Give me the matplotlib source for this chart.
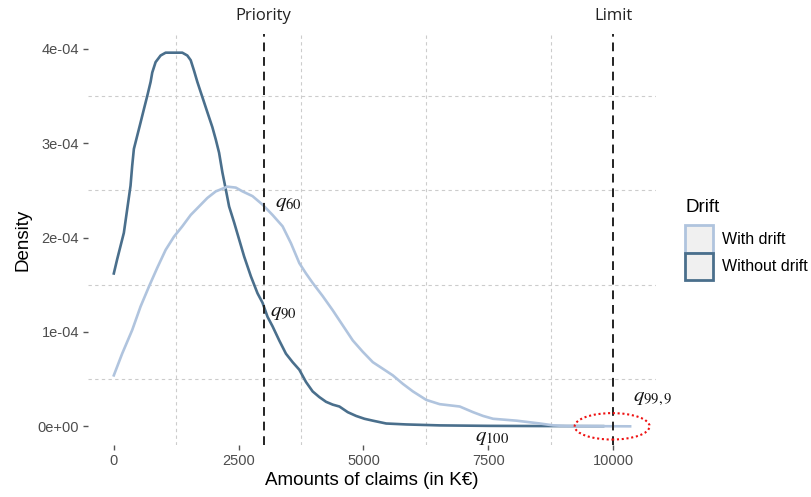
import matplotlib

matplotlib.use("Agg")

import matplotlib.pyplot as plt
from matplotlib.patches import Ellipse, Patch

# Kernel density estimates of claim amounts (in K€), one pair of lists per curve
with_drift_x = [0, 167, 368, 536, 703, 870, 1038, 1205, 1372, 1540, 1707, 1873, 2042,
                2276, 2443, 2577, 2777, 2978, 3179, 3380, 3548, 3715, 3849, 3982, 4183,
                4384, 4585, 4786, 4986, 5187, 5388, 5588, 5789, 5990, 6258, 6526, 6928,
                7195, 7396, 7596, 8065, 8534, 8801, 9069, 10340]
with_drift_y = [0.54e-4, 0.77e-4, 1.02e-4, 1.27e-4, 1.48e-4, 1.68e-4, 1.87e-4, 2.01e-4,
                2.12e-4, 2.24e-4, 2.33e-4, 2.42e-4, 2.49e-4, 2.54e-4, 2.53e-4, 2.49e-4,
                2.44e-4, 2.35e-4, 2.24e-4, 2.12e-4, 1.94e-4, 1.73e-4, 1.62e-4, 1.52e-4,
                1.38e-4, 1.23e-4, 1.07e-4, 0.91e-4, 0.79e-4, 0.68e-4, 0.61e-4, 0.54e-4,
                0.45e-4, 0.37e-4, 0.28e-4, 0.235e-4, 0.21e-4, 0.15e-4, 0.11e-4, 0.08e-4,
                0.06e-4, 0.03e-4, 0.01e-4, 0.003e-4, 0.0]

without_drift_x = [0, 67, 134, 201, 268, 335, 368, 402, 469, 536, 602, 669, 737, 770,
                   837, 937, 1038, 1372, 1472, 1540, 1606, 1673, 1773, 1873, 1974, 2042,
                   2108, 2175, 2243, 2309, 2410, 2510, 2610, 2745, 2878, 2978, 3079, 3179,
                   3313, 3447, 3581, 3715, 3849, 3982, 4116, 4250, 4384, 4518, 4685, 4853,
                   5020, 5187, 5455, 5857, 6526, 7500, 8500, 9800]
without_drift_y = [1.62e-4, 1.77e-4, 1.91e-4, 2.05e-4, 2.30e-4, 2.55e-4, 2.76e-4,
                   2.94e-4, 3.08e-4, 3.22e-4, 3.36e-4, 3.50e-4, 3.65e-4, 3.75e-4,
                   3.86e-4, 3.93e-4, 3.96e-4, 3.96e-4, 3.93e-4, 3.88e-4, 3.77e-4,
                   3.65e-4, 3.49e-4, 3.33e-4, 3.17e-4, 3.04e-4, 2.90e-4, 2.69e-4,
                   2.51e-4, 2.33e-4, 2.16e-4, 1.98e-4, 1.80e-4, 1.59e-4, 1.41e-4,
                   1.31e-4, 1.16e-4, 1.06e-4, 0.91e-4, 0.77e-4, 0.68e-4, 0.60e-4,
                   0.47e-4, 0.37e-4, 0.31e-4, 0.26e-4, 0.23e-4, 0.21e-4, 0.15e-4,
                   0.11e-4, 0.08e-4, 0.06e-4, 0.03e-4, 0.02e-4, 0.01e-4, 0.005e-4,
                   0.003e-4, 0.002e-4]

priority = 3000
limit = 10000

x_ticks = [0, 2500, 5000, 7500, 10000]
y_ticks = [0, 1e-4, 2e-4, 3e-4, 4e-4]
y_tick_labels = ["0e+00", "1e-04", "2e-04", "3e-04", "4e-04"]

# quantile labels: (text, x, y)
quantile_labels = [
    (r"$q_{60}$", 3230, 2.36e-4),
    (r"$q_{90}$", 3130, 1.21e-4),
    (r"$q_{100}$", 7230, -0.12e-4),
    (r"$q_{99,9}$", 10400, 0.29e-4),
]

LIGHT = "#b0c4de"
DARK = "#4a6f8c"

plt.rcParams["font.family"] = ["Liberation Sans", "DejaVu Sans"]
plt.rcParams["mathtext.fontset"] = "stix"

fig = plt.figure(figsize=(8.11, 4.97), dpi=100)
ax = fig.add_axes([0.1085, 0.1046, 0.7003, 0.827])

ax.plot(without_drift_x, without_drift_y, color=DARK, lw=1.9, zorder=3)
ax.plot(with_drift_x, with_drift_y, color=LIGHT, lw=1.9, zorder=4)

for x in (priority, limit):
    ax.axvline(x, color="#222222", lw=1.4, linestyle=(0, (4.5, 3)), zorder=5)

# dotted ring around the tail beyond the limit
ax.add_patch(Ellipse((limit - 20, 0.0), 1500, 0.28e-4, fill=False,
                     edgecolor="#ee1111", lw=1.5, linestyle=(0, (1, 1.3)), zorder=6))

for label, x, y in quantile_labels:
    ax.text(x, y, label, fontsize=15, ha="left", va="center", color="#111111", zorder=7)

for x, name in ((priority, "Priority"), (limit, "Limit")):
    ax.text(x, 1.025, name, transform=ax.get_xaxis_transform(),
            ha="center", va="bottom", fontsize=12, family=["Open Sans", "DejaVu Sans"],
            color="#222222")

ax.set_xlim(-517, 10857)
ax.set_ylim(-0.198e-4, 4.158e-4)

ax.set_xticks(x_ticks)
ax.set_xticklabels([str(t) for t in x_ticks])
ax.set_yticks(y_ticks)
ax.set_yticklabels(y_tick_labels)
ax.set_xticks([1250, 3750, 6250, 8750], minor=True)
ax.set_yticks([0.5e-4, 1.5e-4, 2.5e-4, 3.5e-4], minor=True)
ax.grid(False, which="major")
ax.grid(True, which="minor", color="#cccccc", lw=0.8, linestyle=(0, (3, 3)))
ax.tick_params(which="minor", length=0)
ax.tick_params(which="major", length=3.5, width=1, color="#555555",
               labelcolor="#4d4d4d", labelsize=10.5, pad=3)

for spine in ax.spines.values():
    spine.set_visible(False)

ax.set_xlabel("Amounts of claims (in K€)", fontsize=13.5, labelpad=3)
ax.set_ylabel("Density", fontsize=13.5, labelpad=4)

handles = [
    Patch(facecolor="#f0f0f0", edgecolor=LIGHT, lw=2, label="With drift"),
    Patch(facecolor="#f0f0f0", edgecolor=DARK, lw=2, label="Without drift"),
]
leg = fig.legend(handles=handles, title="Drift", loc="upper left",
                 bbox_to_anchor=(0.833, 0.618), frameon=False, fontsize=11.5,
                 title_fontsize=13.5, handlelength=1.75, handleheight=2.3,
                 handletextpad=0.55, labelspacing=0.0, borderpad=0.1)
leg._legend_box.align = "left"
leg._legend_box.sep = 6  # gap between title and keys

fig.savefig("out.png", dpi=100)
